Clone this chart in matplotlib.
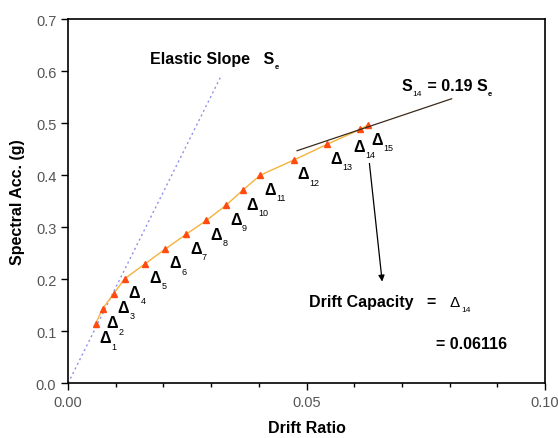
import matplotlib
matplotlib.use("Agg")
import matplotlib.pyplot as plt

plt.rcParams['font.family'] = ['Liberation Sans', 'DejaVu Sans']

# pushover points (drift ratio, spectral acceleration)
drift = [0.00575, 0.00724, 0.00955, 0.0119, 0.0162, 0.0204, 0.0247, 0.0290,
         0.0331, 0.0366, 0.0403, 0.0473, 0.0542, 0.0612, 0.0628]
sa = [0.114, 0.143, 0.172, 0.201, 0.230, 0.258, 0.286, 0.313,
      0.342, 0.371, 0.400, 0.429, 0.459, 0.488, 0.496]

# elastic slope line and secant slope at step 14
elastic_x = [0.0, 0.0322]
elastic_y = [0.0, 0.593]
s14_x = [0.0480, 0.0804]
s14_y = [0.447, 0.547]

# arrow to the drift capacity text
arrow_start = (0.0631, 0.428)
arrow_end = (0.0659, 0.190)

fig = plt.figure(figsize=(5.58, 4.39), dpi=100)
ax = fig.add_axes([0.122, 0.125, 0.855, 0.829])

ax.plot(elastic_x, elastic_y, linestyle=(0, (1.5, 2.2)), color='#9090e8', linewidth=1.0)
ax.plot(drift, sa, color='#f5b23c', linewidth=1.0, zorder=2)
ax.plot(drift, sa, linestyle='none', marker='^', markersize=4.5,
        color='#ff4a10', zorder=3)
ax.plot(s14_x, s14_y, color='#3a2a1a', linewidth=0.9, zorder=4)

ax.annotate('', xy=arrow_end, xytext=arrow_start,
            arrowprops=dict(arrowstyle='-|>', color='black', lw=0.9,
                            mutation_scale=9))

# delta labels: big delta with a tiny subscript
for i, (x, y) in enumerate(zip(drift, sa)):
    dx, dy = (7, -10) if i != 13 else (-1, -12)
    ax.annotate('\u0394', (x, y), xytext=(dx, dy), textcoords='offset points',
                ha='center', va='center', fontsize=11.5, fontweight='bold')
    ax.annotate(str(i + 1), (x, y), xytext=(dx + 4.5, dy - 6),
                textcoords='offset points', ha='left', va='center',
                fontsize=6.5)


def chain_text(x, y, parts):
    # parts: (string, fontsize, weight, vertical shift in points)
    prev = None
    for s, fs, w, dy in parts:
        if prev is None:
            prev = ax.text(x, y, s, fontsize=fs, fontweight=w, va='bottom')
        else:
            prev = ax.annotate(s, xycoords=prev, xy=(1, 0), xytext=(0.5, dy),
                               textcoords='offset points', va='bottom',
                               fontsize=fs, fontweight=w)


chain_text(0.0172, 0.610, [('Elastic Slope   S', 11.5, 'bold', 0),
                           ('e', 5.5, 'bold', -3)])
chain_text(0.0698, 0.559, [('S', 11.5, 'bold', 0), ('14', 6, 'normal', -3),
                           (' = 0.19 S', 11.5, 'bold', 3), ('e', 5.5, 'bold', -3)])
chain_text(0.0504, 0.143, [('Drift Capacity   =   ', 11.5, 'bold', 0),
                           ('\u0394', 11, 'normal', 0), ('14', 6, 'normal', -3)])
ax.text(0.0772, 0.068, '= 0.06116', fontsize=11.5, fontweight='bold',
        va='baseline', ha='left')

ax.set_xlim(0, 0.10)
ax.set_ylim(0, 0.7)
ax.set_xticks([0.0, 0.05, 0.10])
ax.set_xticklabels(['0.00', '0.05', '0.10'])
ax.set_xticks([i * 0.01 for i in range(11)], minor=True)
ax.set_yticks([i * 0.1 for i in range(8)])
ax.set_yticklabels(['%.1f' % (i * 0.1) for i in range(8)])
ax.tick_params(axis='both', which='major', direction='out', length=5,
               width=1, labelsize=10.5, labelcolor='#555555')
ax.tick_params(axis='x', which='minor', direction='out', length=3, width=1)

for sp in ax.spines.values():
    sp.set_linewidth(1.2)

ax.set_xlabel('Drift Ratio', fontsize=11.5, fontweight='bold', labelpad=8)
ax.set_ylabel('Spectral Acc. (g)', fontsize=11.5, fontweight='bold', labelpad=8)

fig.savefig('out.png', dpi=100)
